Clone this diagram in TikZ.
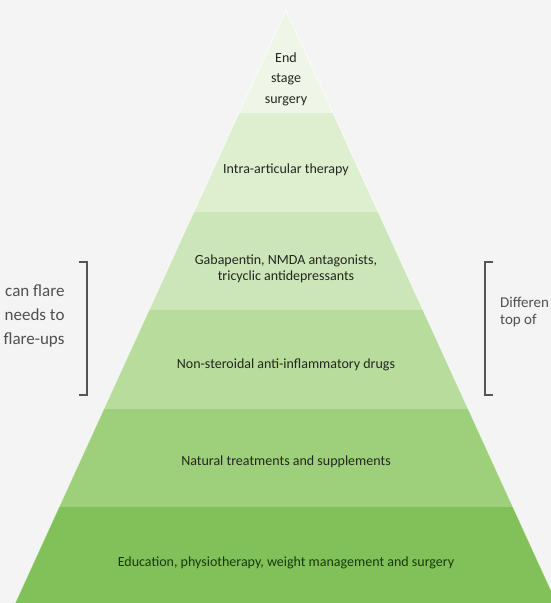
\documentclass[tikz,border=0pt]{standalone}
\usepackage{fontspec}
\setmainfont{Carlito}
\usetikzlibrary{positioning, calc}
\definecolor{pagegrey}{RGB}{244,244,244}
\definecolor{tierA}{RGB}{239,246,232}
\definecolor{tierB}{RGB}{222,239,208}
\definecolor{tierC}{RGB}{205,230,185}
\definecolor{tierD}{RGB}{183,220,156}
\definecolor{tierE}{RGB}{158,208,124}
\definecolor{tierF}{RGB}{130,193,89}
\definecolor{tiertext}{RGB}{35,38,32}
\definecolor{edutext}{RGB}{22,58,10}
\definecolor{sidetext}{RGB}{80,80,80}
\definecolor{bracketgrey}{RGB}{85,85,85}

\begin{document}
\begin{tikzpicture}[x=1pt, y=-1pt,
    tier/.style={font=\fontsize{14}{16}\selectfont, text=tiertext, align=center},
    side/.style={font=\fontsize{17}{24}\selectfont, text=sidetext},
    bracket/.style={draw=bracketgrey, line width=1.5pt}
]
    \useasboundingbox (0,0) rectangle (551,603);
    \clip (0,0) rectangle (551,603);
    \fill[pagegrey] (0,0) rectangle (551,603);

    % Pyramid tiers (apex at 286,10)
    \foreach \ytop/\ybot/\col in {10/113/tierA, 113/212/tierB, 212/310/tierC,
                                  310/409/tierD, 409/507/tierE, 507/620/tierF} {
        \fill[\col] ({286-0.457*(\ytop-10)},\ytop) -- ({286+0.457*(\ytop-10)},\ytop)
            -- ({286+0.457*(\ybot-10)},\ybot) -- ({286-0.457*(\ybot-10)},\ybot) -- cycle;
        \draw[white, opacity=0.35, line width=1pt]
            ({286-0.457*(\ybot-10)},\ybot) -- ({286+0.457*(\ybot-10)},\ybot);
    }
    \draw[white, opacity=0.6, line width=1pt]
        ({286-0.457*610},620) -- (286,10) -- ({286+0.457*610},620);

    % Tier labels
    \node[tier, font=\fontsize{14}{20.5}\selectfont] (endstage) at (286,79) {End\\stage\\surgery};
    \node[tier] (intra) at (286,170) {Intra-articular therapy};
    \node[tier] (gaba) at (286,269) {Gabapentin, NMDA antagonists,\\tricyclic antidepressants};
    \node[tier] (nsaid) at (286,365) {Non-steroidal anti-inflammatory drugs};
    \node[tier] (natural) at (286,462) {Natural treatments and supplements};
    \node[tier, text=edutext] (edu) at (286,563) {Education, physiotherapy, weight management and surgery};

    % Side notes
    \node[side, anchor=east, align=right] (flare) at (68,316) {can flare\\needs to\\flare-ups};
    \node[side, anchor=west, align=left, font=\fontsize{15}{17}\selectfont, inner xsep=1pt] (differ) at (499,312) {Differen\\top of};

    % Brackets
    \coordinate (lbtop) at (87,262);
    \coordinate (lbbot) at (87,395);
    \coordinate (rbtop) at (485,262);
    \coordinate (rbbot) at (485,395);
    \draw[bracket] ($(lbtop)+(-8,0)$) -- (lbtop) -- (lbbot) -- ($(lbbot)+(-8,0)$);
    \draw[bracket] ($(rbtop)+(8,0)$) -- (rbtop) -- (rbbot) -- ($(rbbot)+(8,0)$);
\end{tikzpicture}
\end{document}
